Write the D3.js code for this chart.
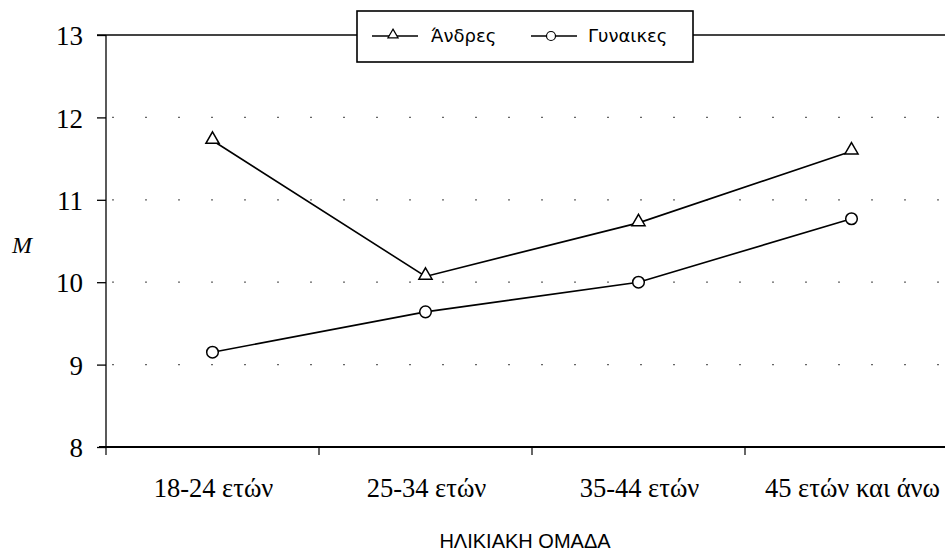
<!DOCTYPE html>
<html>
<head>
<meta charset="utf-8">
<script src="https://cdn.jsdelivr.net/npm/d3@7"></script>
<style>
  html, body { margin: 0; padding: 0; background: #fff; }
  svg { display: block; }
</style>
</head>
<body>
<svg id="chart" width="945" height="551"></svg>
<script>
// ---- data ----
const categories = ["18-24 ετών", "25-34 ετών", "35-44 ετών", "45 ετών και άνω"];
const menValues = [11.72, 10.07, 10.72, 11.59];
const womenValues = [9.15, 9.64, 10.00, 10.77];
const seriesNames = ["Άνδρες", "Γυναικες"];
const yTicks = [8, 9, 10, 11, 12, 13];
const yTitle = "M";
const xTitle = "ΗΛΙΚΙΑΚΗ ΟΜΑΔΑ";

// ---- layout ----
const svg = d3.select("#chart");
const pLeft = 106, pRight = 958, pTop = 35, pBottom = 447;
const serif = '"Liberation Serif"';
const sans = '"Liberation Sans"';
const legendFont = '"DejaVu Sans"';

const x = d3.scaleBand().domain(categories).range([pLeft, pRight]).paddingInner(0).paddingOuter(0);
const y = d3.scaleLinear().domain([8, 13]).range([pBottom, pTop]);

// grid (faint dotted, like scanned)
svg.append("g").selectAll("line")
  .data(yTicks.filter(t => t > 8 && t < 13))
  .join("line")
  .attr("x1", pLeft + 6).attr("x2", 945)
  .attr("y1", d => y(d)).attr("y2", d => y(d))
  .attr("stroke", "#666").attr("stroke-width", 1.2)
  .attr("stroke-dasharray", "2,31");

// top frame line
svg.append("line")
  .attr("x1", pLeft - 9).attr("x2", 945)
  .attr("y1", y(13)).attr("y2", y(13))
  .attr("stroke", "#444").attr("stroke-width", 2);

// y axis
const yAxis = d3.axisLeft(y).tickValues(yTicks).tickSize(9).tickPadding(14).tickFormat(d3.format("d"));
const gy = svg.append("g").attr("transform", `translate(${pLeft},0)`).call(yAxis);
gy.select(".domain").attr("stroke", "#000").attr("stroke-width", 1.3).attr("d", `M0,${pTop}V${pBottom}`);
gy.selectAll(".tick line").attr("stroke", "#000").attr("stroke-width", 1.3);
gy.selectAll(".tick text")
  .style("font-family", serif).style("font-size", "27px")
  .attr("fill", "#000").attr("dy", "0.36em");

// x axis
const gx = svg.append("g").attr("transform", `translate(0,${pBottom})`);
gx.append("line").attr("x1", pLeft - 7).attr("x2", 945).attr("y1", 0).attr("y2", 0)
  .attr("stroke", "#000").attr("stroke-width", 2);
gx.selectAll(".xt").data(categories).join("line").attr("class", "xt")
  .attr("x1", d => x(d)).attr("x2", d => x(d)).attr("y1", 0).attr("y2", 8)
  .attr("stroke", "#000").attr("stroke-width", 1.2);
gx.selectAll(".xl").data(categories).join("text").attr("class", "xl")
  .attr("x", d => x(d) + x.bandwidth() / 2 + 1).attr("y", 50)
  .attr("text-anchor", "middle")
  .style("font-family", serif).style("font-size", "26.5px")
  .attr("fill", "#000")
  .text(d => d);

// axis titles
svg.append("text").attr("x", 525).attr("y", 548).attr("text-anchor", "middle")
  .style("font-family", sans).style("font-size", "20px")
  .attr("fill", "#000").text(xTitle);
svg.append("text").attr("x", 22).attr("y", 253).attr("text-anchor", "middle")
  .style("font-family", serif).style("font-style", "italic").style("font-size", "24px")
  .attr("fill", "#000").text(yTitle);

// series
const line = d3.line().x((d, i) => x(categories[i]) + x.bandwidth() / 2).y(d => y(d));
const tri = d3.symbol().type(d3.symbolTriangle).size(75);

function drawSeries(vals, marker) {
  const g = svg.append("g");
  g.append("path").datum(vals).attr("d", line)
    .attr("fill", "none").attr("stroke", "#000").attr("stroke-width", 1.6);
  const pts = g.selectAll(".pt").data(vals).join("g")
    .attr("transform", (d, i) => `translate(${x(categories[i]) + x.bandwidth() / 2},${y(d)})`);
  if (marker === "tri") {
    pts.append("path").attr("d", tri).attr("transform", "translate(0,-1)")
      .attr("fill", "#fff").attr("stroke", "#000").attr("stroke-width", 1.5);
  } else {
    pts.append("circle").attr("r", 5.8)
      .attr("fill", "#fff").attr("stroke", "#000").attr("stroke-width", 1.5);
  }
}
drawSeries(menValues, "tri");
drawSeries(womenValues, "circle");

// legend
const lg = svg.append("g");
lg.append("rect").attr("x", 357).attr("y", 11).attr("width", 336).attr("height", 51)
  .attr("fill", "#fff").attr("stroke", "#000").attr("stroke-width", 1.6);
const legendItems = [
  { name: seriesNames[0], marker: "tri", x0: 372, tx: 431 },
  { name: seriesNames[1], marker: "circle", x0: 531, tx: 588 }
];
legendItems.forEach(it => {
  const cy = 36;
  lg.append("line").attr("x1", it.x0).attr("x2", it.x0 + 46).attr("y1", cy).attr("y2", cy)
    .attr("stroke", "#000").attr("stroke-width", 1.3);
  if (it.marker === "tri") {
    lg.append("path").attr("d", d3.symbol().type(d3.symbolTriangle).size(45))
      .attr("transform", `translate(${it.x0 + 21},${cy - 1})`)
      .attr("fill", "#fff").attr("stroke", "#000").attr("stroke-width", 1.2);
  } else {
    lg.append("circle").attr("cx", it.x0 + 20).attr("cy", cy).attr("r", 4.5)
      .attr("fill", "#fff").attr("stroke", "#000").attr("stroke-width", 1.2);
  }
  lg.append("text").attr("x", it.tx).attr("y", cy + 6)
    .style("font-family", legendFont).style("font-size", "18px")
    .attr("fill", "#000").text(it.name);
});
</script>
</body>
</html>
